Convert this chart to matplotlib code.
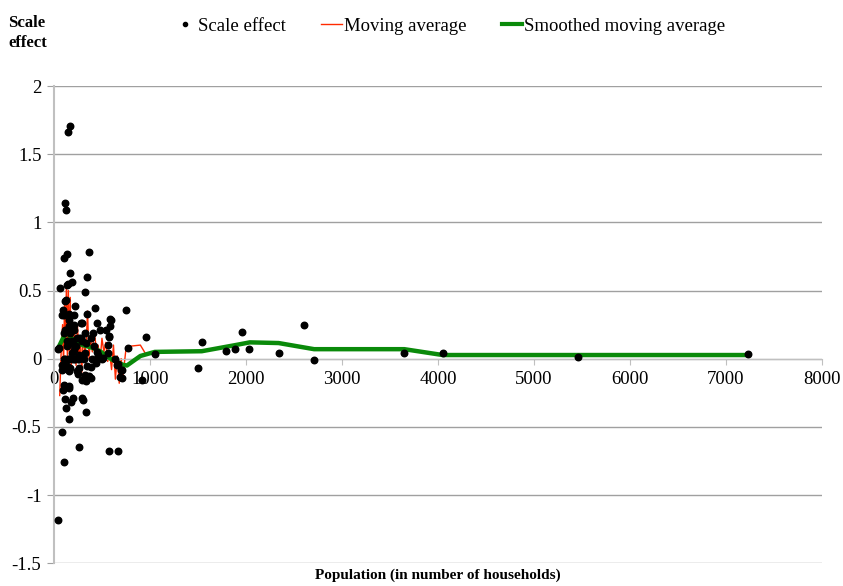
import matplotlib.pyplot as plt
from matplotlib.lines import Line2D

plt.rcParams['font.family'] = ['Liberation Serif', 'DejaVu Serif']

# scale effect vs population (households)
pop = [170, 149, 111, 125, 135, 108, 361, 170, 347, 188, 146, 59, 326,
       115, 97, 104, 427, 750, 212, 153, 208, 295, 587, 583, 451, 479, 115, 170,
       576, 958, 323, 406, 260, 132, 201, 288, 566, 45, 771, 1538, 1789, 1889,
       1052, 208, 323, 396, 462, 507, 635, 115, 149, 184, 219, 253,
       97, 132, 167, 260, 385, 660, 705, 705, 920, 1503, 323, 253, 288, 385,
       104, 90, 160, 201, 115, 177, 295, 302, 125, 330, 160, 80, 260, 107,
       576, 663, 45,
       1962, 2034, 2344, 2604, 2708, 3646, 4052, 5455, 7233,
       132, 122, 215, 86, 156, 347, 278, 156, 208, 538, 52, 104, 243, 278,
       382, 191, 330, 139, 226, 417, 451, 191, 260, 104, 156, 208, 260, 312,
       451, 503, 86, 139, 347, 434, 86, 156, 243, 365, 330, 156, 111,
       594, 573, 566, 663, 698, 688]
effect = [1.71, 1.66, 1.14, 1.09, 0.77, 0.74, 0.785, 0.63, 0.60, 0.56, 0.55, 0.52, 0.49,
          0.42, 0.36, 0.32, 0.37, 0.36, 0.32, 0.285, 0.25, 0.26, 0.29, 0.24, 0.26, 0.21, 0.21, 0.19,
          0.16, 0.16, 0.19, 0.19, 0.15, 0.13, 0.11, 0.13, 0.10, 0.07, 0.075, 0.12, 0.06, 0.07,
          0.034, 0.065, 0.045, 0.0, 0.03, 0.005, 0.0, 0.0, 0.0, 0.0, 0.0, 0.0,
          -0.05, -0.075, -0.07, -0.07, -0.06, -0.045, -0.085, -0.14, -0.155, -0.07, -0.12, -0.11, -0.155, -0.14,
          -0.19, -0.23, -0.215, -0.29, -0.295, -0.32, -0.29, -0.30, -0.36, -0.39, -0.44, -0.54, -0.65, -0.755,
          -0.68, -0.68, -1.18,
          0.198, 0.073, 0.04, 0.245, -0.007, 0.04, 0.04, 0.015, 0.037,
          0.54, 0.43, 0.39, 0.32, 0.33, 0.33, 0.265, 0.24, 0.21, 0.21, 0.08, 0.19, 0.15, 0.15,
          0.15, 0.13, 0.115, 0.09, 0.09, 0.09, 0.05, 0.04, 0.03, 0.0, 0.0, 0.0, 0.0, 0.0,
          0.0, 0.0, -0.045, -0.05, -0.05, -0.03, -0.08, -0.09, -0.09, -0.125, -0.16, -0.2, -0.2,
          0.285, 0.165, 0.04, -0.037, -0.08, -0.137]

ma_x = [60, 75, 90, 100, 110, 120, 130, 140, 150, 160, 170, 180, 190, 200, 215, 230,
        245, 260, 275, 290, 305, 320, 335, 350, 365, 380, 400, 420, 440, 460, 480, 500,
        520, 540, 560, 580, 600, 620, 640, 660, 680, 700, 720, 750, 770, 900, 960, 1050,
        1550, 1900, 2040]
ma_y = [-0.27, 0.05, 0.25, -0.05, 0.4, 0.1, 0.55, 0.0, 0.5, 0.05, 0.45, -0.1, 0.3, 0.05,
        0.2, -0.05, 0.25, 0.0, 0.15, -0.1, 0.2, 0.05, 0.1, 0.35, 0.0, 0.15, 0.05, 0.2, 0.08,
        0.1, -0.02, 0.15, 0.05, 0.12, -0.02, 0.05, -0.08, 0.1, -0.15, 0.02, -0.18, 0.0,
        -0.12, 0.07, 0.09, 0.1, 0.03, 0.045, 0.055, 0.1, 0.12]

smooth_x = [45, 80, 115, 135, 200, 300, 400, 480, 600, 720, 760, 900, 1050, 1540,
            1890, 2040, 2340, 2710, 3650, 4050, 5460, 7230]
smooth_y = [0.08, 0.13, 0.18, 0.19, 0.14, 0.10, 0.08, 0.055, -0.005, -0.045, -0.05,
            0.02, 0.05, 0.055, 0.10, 0.12, 0.115, 0.07, 0.07, 0.027, 0.027, 0.027]

fig = plt.figure(figsize=(8.43, 5.86), dpi=100)
ax = fig.add_axes([0.064, 0.039, 0.911, 0.814])

ax.plot(ma_x, ma_y, color='#ff2a00', lw=1.0, zorder=2)
ax.plot(smooth_x, smooth_y, color='#0a8a0a', lw=3.2, zorder=3)
ax.scatter(pop, effect, s=22, color='black', zorder=4)

ax.set_xlim(0, 8000)
ax.set_ylim(-1.5, 2)
ax.set_xticks(range(0, 8001, 1000))
ax.set_yticks([-1.5, -1, -0.5, 0, 0.5, 1, 1.5, 2])
ax.set_yticklabels(['-1.5', '-1', '-0.5', '0', '0.5', '1', '1.5', '2'])
ax.yaxis.grid(True, color='#a0a0a0', lw=1)
ax.set_axisbelow(True)

ax.spines['top'].set_visible(False)
ax.spines['right'].set_visible(False)
ax.spines['bottom'].set_position(('data', 0))
ax.spines['bottom'].set_color('#c0c0c0')
ax.spines['left'].set_color('#c0c0c0')
ax.spines['left'].set_linewidth(1.5)
ax.tick_params(axis='x', length=4, color='#c0c0c0', labelsize=13.5, pad=5)
ax.tick_params(axis='y', length=5, color='#a0a0a0', labelsize=13.5, pad=4)

ax.set_xlabel('Population (in number of households)', fontsize=11, fontweight='bold')
ax.xaxis.set_label_coords(0.5, -0.012)
fig.text(0.01, 0.975, 'Scale\neffect', fontsize=12, fontweight='bold', va='top', linespacing=1.4)

handles = [Line2D([], [], marker='o', ms=3, color='black', ls='none'),
           Line2D([], [], color='#ff2a00', lw=1),
           Line2D([], [], color='#0a8a0a', lw=3)]
fig.legend(handles, ['Scale effect', 'Moving average', 'Smoothed moving average'],
           loc='center', bbox_to_anchor=(0.534, 0.955), ncol=3, frameon=False,
           fontsize=13.5, handlelength=1.1, handletextpad=0.1, columnspacing=1.9)

fig.savefig('out.png', dpi=100)
